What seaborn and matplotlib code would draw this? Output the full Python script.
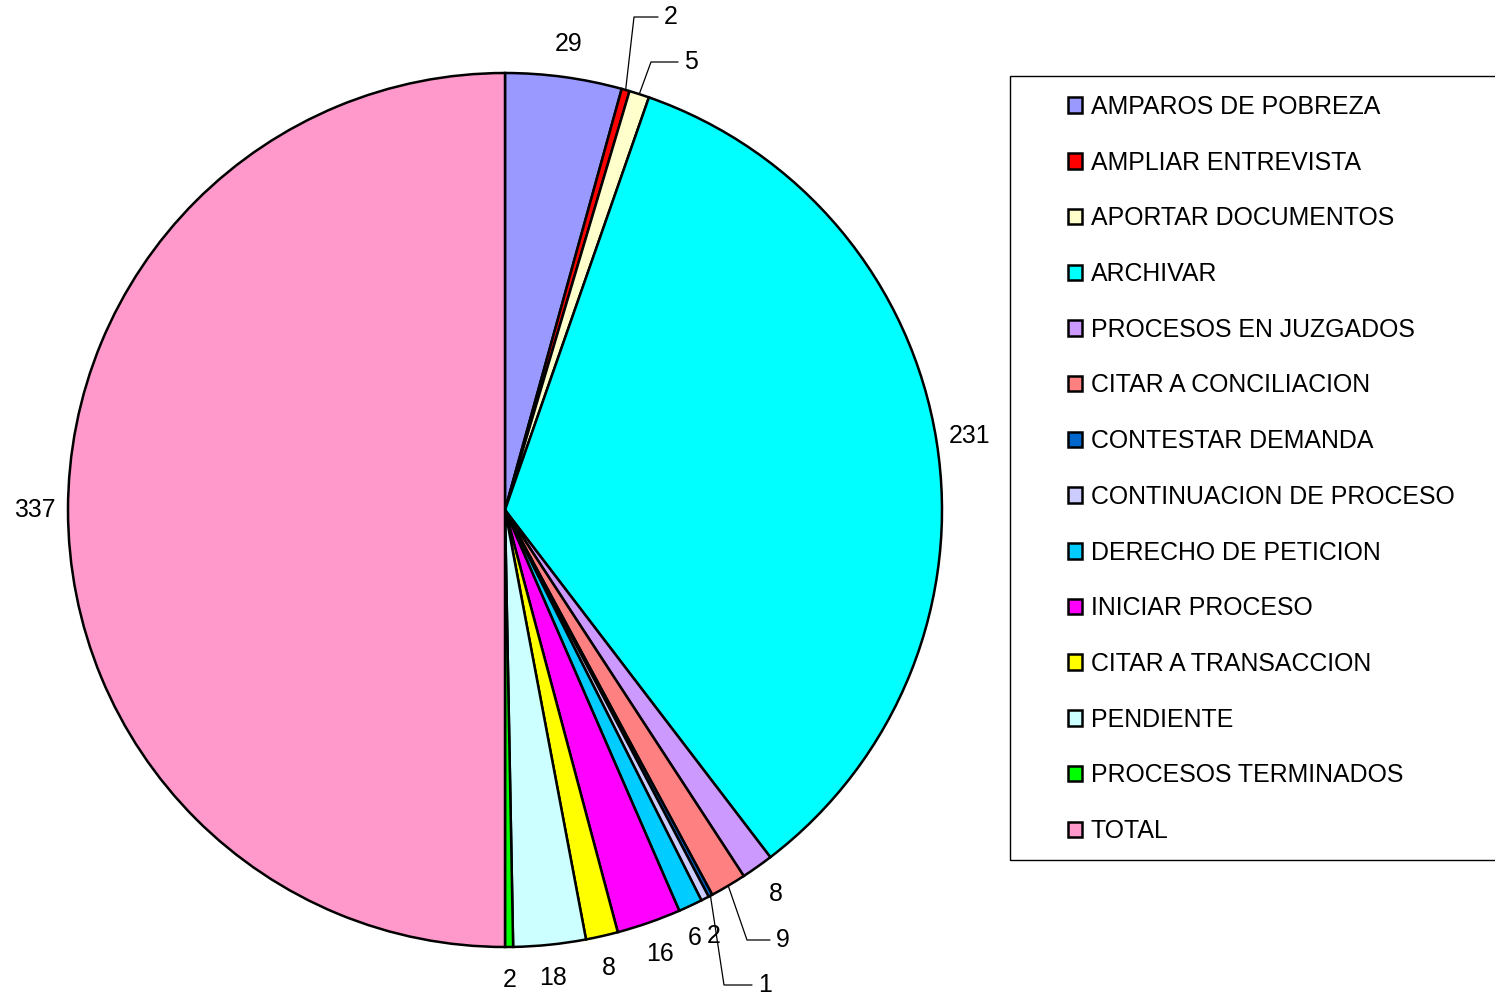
import numpy as np
import matplotlib
matplotlib.use("Agg")
import matplotlib.pyplot as plt
import seaborn as sns
from matplotlib.patches import Rectangle

# ---- data ----
categories = [
    "AMPAROS DE POBREZA", "AMPLIAR ENTREVISTA", "APORTAR DOCUMENTOS", "ARCHIVAR",
    "PROCESOS EN JUZGADOS", "CITAR A CONCILIACION", "CONTESTAR DEMANDA",
    "CONTINUACION DE PROCESO", "DERECHO DE PETICION", "INICIAR PROCESO",
    "CITAR A TRANSACCION", "PENDIENTE", "PROCESOS TERMINADOS", "TOTAL",
]
values = [29, 2, 5, 231, 8, 9, 1, 2, 6, 16, 8, 18, 2, 337]
colors = ["#9999FF", "#FF0000", "#FFFFCC", "#00FFFF", "#CC99FF", "#FF8080",
          "#0066CC", "#CCCCFF", "#00CCFF", "#FF00FF", "#FFFF00", "#CCFFFF",
          "#00FF00", "#FF99CC"]

sns.set_theme(style="white")
plt.rcParams["font.family"] = ["Liberation Sans", "DejaVu Sans"]
plt.rcParams["text.color"] = "black"

W, H = 1495, 1000
fig = plt.figure(figsize=(W / 100, H / 100), dpi=100)
ax = fig.add_axes([0, 0, 1, 1])

cx, cy, R = 505, H - 510, 437
wedges, _ = ax.pie(values, colors=colors, startangle=90, counterclock=False,
                   center=(cx, cy), radius=R,
                   wedgeprops=dict(edgecolor="black", linewidth=1.8))
ax.set_xlim(0, W)
ax.set_ylim(0, H)
ax.set_aspect("equal")
ax.axis("off")

FS = 17.9
# labels with leader lines: (elbow, end) in pixel coords (y from top)
leaders = {
    1: ((634, 17), (658, 17)),
    2: ((651, 62), (678, 62)),
    5: ((747, 940), (770, 940)),
    6: ((724, 985), (752, 985)),
}
nudges = {7: (-6, 8), 8: (-10, 2)}

for i, (w, v) in enumerate(zip(wedges, values)):
    mid = np.deg2rad((w.theta1 + w.theta2) / 2)
    c, s = np.cos(mid), np.sin(mid)
    if i in leaders:
        sx, sy = cx + R * c, cy + R * s
        (ex, ey), (fx, fy) = leaders[i]
        ey, fy = H - ey, H - fy
        ax.plot([sx, ex, fx], [sy, ey, fy], color="black", lw=0.9)
        ax.text(fx + 6, fy, str(v), ha="left", va="center", fontsize=FS,
                color="black")
    else:
        r = R + 33
        x, y = cx + r * c, cy + r * s
        if i in nudges:
            x += nudges[i][0]
            y -= nudges[i][1]
        ax.text(x, y, str(v), ha="center", va="center", fontsize=FS,
                color="black")

# legend frame
ax.add_patch(Rectangle((1010, H - 860), 520, 784, fill=False,
                       edgecolor="black", lw=1.0, clip_on=False))
leg = ax.legend(wedges, categories, loc="upper left",
                bbox_to_anchor=(1068, H - 95), bbox_transform=ax.transData,
                frameon=False, fontsize=FS, handlelength=0.58, handleheight=0.58,
                handletextpad=0.33, labelspacing=1.275, borderpad=0,
                borderaxespad=0, labelcolor="black")

fig.savefig("out.png", dpi=100)
